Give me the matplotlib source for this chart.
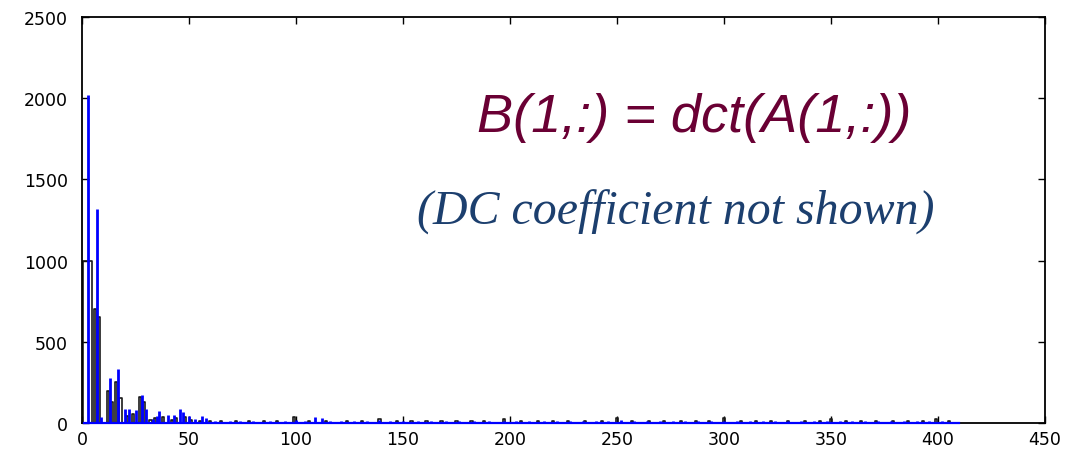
import numpy as np
import matplotlib
matplotlib.use("Agg")
import matplotlib.pyplot as plt

# Coefficient index range (DC coefficient not shown)
n_coeffs = 410

# Blue series: spike positions and magnitudes
blue_idx = [3, 7, 9, 13, 17, 20, 22, 25, 28, 30, 33, 35, 36, 40, 43, 46, 47, 50, 53, 56, 58,
            62, 69, 74, 80, 88, 95, 100, 104, 109, 112, 116, 121, 127, 133, 139, 144, 150,
            157, 163, 170, 176, 183, 190, 197, 203, 209, 216, 222, 228, 234, 240, 246, 252,
            258, 264, 270, 276, 282, 288, 294, 300, 306, 312, 318, 324, 330, 336, 342, 348,
            354, 360, 366, 372, 378, 384, 390, 396, 402, 407]
blue_val = [2020, 1320, 40, 275, 335, 85, 85, 78, 170, 88, 25, 45, 75, 50, 52, 88, 68, 46, 25, 44, 30,
            12, 15, 12, 14, 12, 15, 18, 15, 35, 30, 15, 12, 14, 15, 18, 12, 10,
            12, 12, 10, 12, 10, 12, 15, 12, 10, 12, 14, 12, 15, 12, 14, 18,
            12, 14, 12, 10, 12, 10, 12, 15, 10, 10, 12, 10, 14, 10, 12, 10,
            12, 10, 12, 10, 12, 10, 14, 12, 10, 8]

# Black series: spike positions and magnitudes
black_idx = [1, 2, 3, 4, 6, 8, 12, 14, 16, 18, 21, 24, 27, 29, 32, 34, 38, 42, 44, 48, 51, 55,
             60, 65, 72, 78, 85, 91, 99, 106, 114, 124, 131, 139, 147, 154, 161, 168, 175,
             182, 188, 197, 205, 213, 220, 227, 235, 243, 250, 257, 265, 272, 280, 287, 293,
             300, 308, 315, 322, 330, 338, 345, 350, 357, 364, 371, 379, 386, 393, 399, 405]
black_val = [1000, 1000, 1000, 1000, 700, 650, 200, 130, 255, 155, 45, 55, 162, 130, 20, 30, 37, 20, 32, 37, 20, 15,
             15, 12, 10, 12, 10, 12, 37, 12, 12, 10, 12, 25, 10, 12, 10, 12, 10,
             12, 10, 25, 12, 10, 12, 10, 12, 10, 30, 12, 10, 12, 10, 12, 10,
             30, 12, 10, 12, 10, 12, 10, 25, 12, 10, 12, 10, 12, 10, 25, 10]

x_ticks = [0, 50, 100, 150, 200, 250, 300, 350, 400, 450]
y_ticks = [0, 500, 1000, 1500, 2000, 2500]

x = np.arange(0, n_coeffs + 1)
black = np.zeros(n_coeffs + 1)
black[np.array(black_idx)] = black_val

fig = plt.figure(figsize=(10.71, 4.52), dpi=100)
ax = fig.add_axes([82 / 1071, (452 - 424) / 452, (1045 - 82) / 1071, (424 - 18) / 452])

ax.step(x, black, where="mid", color="#1a1a1a", lw=1.2, zorder=2)
ax.vlines(blue_idx, 0, blue_val, color="#0000ff", lw=2.0, zorder=3)
ax.plot([x[1], x[-1]], [0, 0], color="#0000ff", lw=1.6, zorder=5, clip_on=False)

ax.set_xlim(0, 450)
ax.set_ylim(0, 2500)
ax.set_xticks(x_ticks)
ax.set_yticks(y_ticks)
ax.tick_params(direction="in", top=True, right=True, length=5, width=1,
               labelsize=12.5, colors="black")
ax.tick_params(axis="y", pad=10)
ax.tick_params(axis="x", pad=5)
for sp in ax.spines.values():
    sp.set_linewidth(1.3)
    sp.set_color("black")
    sp.set_zorder(4)
for lab in ax.get_xticklabels() + ax.get_yticklabels():
    lab.set_family("DejaVu Sans")

fig.text(694 / 1071, 1 - 118 / 452, "B(1,:) = dct(A(1,:))", ha="center", va="center",
         fontsize=39, family="Liberation Sans", style="italic", color="#6a0034")
fig.text(676 / 1071, 1 - 212 / 452, "(DC coefficient not shown)", ha="center", va="center",
         fontsize=34.5, family="Liberation Serif", style="italic", color="#1c3f6e")

fig.savefig("out.png", dpi=100)
